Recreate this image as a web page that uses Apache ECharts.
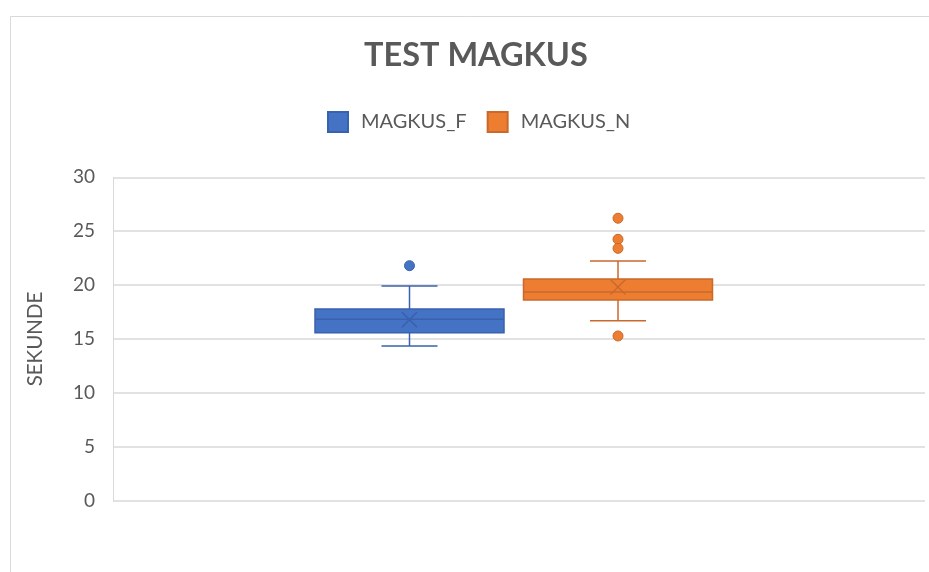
<!DOCTYPE html>
<html>
<head>
<meta charset="utf-8">
<script src="https://cdn.jsdelivr.net/npm/echarts@6/dist/echarts.min.js"></script>
<style>
  html, body { margin: 0; padding: 0; background: #fff; }
  #main { width: 929px; height: 572px; }
</style>
</head>
<body>
<div id="main"></div>
<script>
// data
var categories = ['MAGKUS_F', 'MAGKUS_N'];
// [min, q1, median, q3, max, mean]
var boxF = [14.35, 15.58, 16.83, 17.78, 19.92, 16.8];
var boxN = [16.70, 18.62, 19.36, 20.57, 22.24, 19.82];
var outliersF = [21.8];
var outliersN = [26.2, 24.25, 23.41, 15.28];
var yTicks = [0, 30, 5]; // min, max, interval

var FONT = 'Lato, "Open Sans", sans-serif';
var GRAY = '#595959';
var LINE = '#d9d9d9';

var colF = { fill: '#4472c4', stroke: '#3862ad' };
var colN = { fill: '#ed7d31', stroke: '#c9692b' };

// box drawn on the hidden grid's scales
function boxRenderer(col) {
    return function (params, api) {
        var x = api.value(0);
        var pMin = api.coord([x, api.value(1)]);
        var pQ1 = api.coord([x, api.value(2)]);
        var pMed = api.coord([x, api.value(3)]);
        var pQ3 = api.coord([x, api.value(4)]);
        var pMax = api.coord([x, api.value(5)]);
        var pMean = api.coord([x, api.value(6)]);
        var cx = pMed[0];
        var half = 94.5, cap = 28, xs = 7.5;
        var ls = { stroke: col.stroke, lineWidth: 1.5 };
        return {
            type: 'group',
            children: [
                { type: 'line', shape: { x1: cx, y1: pQ3[1], x2: cx, y2: pMax[1] }, style: ls },
                { type: 'line', shape: { x1: cx, y1: pQ1[1], x2: cx, y2: pMin[1] }, style: ls },
                { type: 'line', shape: { x1: cx - cap, y1: pMax[1], x2: cx + cap, y2: pMax[1] }, style: ls },
                { type: 'line', shape: { x1: cx - cap, y1: pMin[1], x2: cx + cap, y2: pMin[1] }, style: ls },
                { type: 'rect', shape: { x: cx - half, y: pQ3[1], width: half * 2, height: pQ1[1] - pQ3[1] },
                  style: { fill: col.fill, stroke: col.stroke, lineWidth: 1.5 } },
                { type: 'line', shape: { x1: cx - half, y1: pMed[1], x2: cx + half, y2: pMed[1] }, style: ls },
                { type: 'line', shape: { x1: cx - xs, y1: pMean[1] - xs, x2: cx + xs, y2: pMean[1] + xs }, style: ls },
                { type: 'line', shape: { x1: cx + xs, y1: pMean[1] - xs, x2: cx - xs, y2: pMean[1] + xs }, style: ls }
            ]
        };
    };
}

function outlierData(idx, list) {
    var out = [];
    for (var i = 0; i < list.length; i++) {
        out.push([idx, list[i]]);
    }
    return out;
}

var chart = echarts.init(document.getElementById('main'));
chart.setOption({
    animation: false,
    backgroundColor: '#fff',
    graphic: [{
        type: 'rect',
        shape: { x: 10.5, y: 16.5, width: 1000, height: 1000 },
        style: { fill: 'none', stroke: LINE, lineWidth: 1 },
        z: -1
    }],
    title: {
        text: 'TEST MAGKUS',
        left: 359,
        top: 34,
        textStyle: { fontFamily: FONT, fontSize: 32.5, fontWeight: 'bold', color: GRAY }
    },
    legend: {
        data: categories,
        left: 327,
        top: 111,
        padding: 0,
        icon: 'rect',
        itemWidth: 20,
        itemHeight: 20,
        itemGap: 20,
        textStyle: { fontFamily: FONT, fontSize: 20, color: GRAY, padding: [0, 0, 0, 8] }
    },
    grid: [
        { left: 113, right: 4, top: 177.3, bottom: 71.3 },
        { left: 305.25, width: 417, top: 177.3, bottom: 71.3 }
    ],
    xAxis: [
        { type: 'category', gridIndex: 0, data: [''], show: false },
        { type: 'category', gridIndex: 1, data: categories, show: false }
    ],
    yAxis: [
        {
            type: 'value', gridIndex: 0,
            min: yTicks[0], max: yTicks[1], interval: yTicks[2],
            name: 'SEKUNDE',
            nameLocation: 'middle',
            nameRotate: 90,
            nameGap: 67,
            nameTextStyle: { fontFamily: FONT, fontSize: 20.5, color: GRAY },
            axisLine: { show: true, lineStyle: { color: LINE } },
            axisTick: { show: false },
            axisLabel: { fontFamily: FONT, fontSize: 19, color: GRAY, margin: 18 },
            splitLine: { lineStyle: { color: LINE, width: 1.5 } }
        },
        {
            type: 'value', gridIndex: 1,
            min: yTicks[0], max: yTicks[1], interval: yTicks[2],
            show: false, splitLine: { show: false }
        }
    ],
    series: [
        {
            name: 'MAGKUS_F', type: 'custom', xAxisIndex: 1, yAxisIndex: 1,
            itemStyle: { color: colF.fill, borderColor: colF.stroke, borderWidth: 1 },
            renderItem: boxRenderer(colF),
            data: [[0].concat(boxF)]
        },
        {
            name: 'MAGKUS_N', type: 'custom', xAxisIndex: 1, yAxisIndex: 1,
            itemStyle: { color: colN.fill, borderColor: colN.stroke, borderWidth: 1 },
            renderItem: boxRenderer(colN),
            data: [[1].concat(boxN)]
        },
        {
            name: 'MAGKUS_F', type: 'scatter', xAxisIndex: 1, yAxisIndex: 1,
            symbolSize: 10,
            itemStyle: { color: colF.fill, borderColor: colF.stroke, borderWidth: 1, opacity: 1 },
            data: outlierData(0, outliersF)
        },
        {
            name: 'MAGKUS_N', type: 'scatter', xAxisIndex: 1, yAxisIndex: 1,
            symbolSize: 10,
            itemStyle: { color: colN.fill, borderColor: colN.stroke, borderWidth: 1, opacity: 1 },
            data: outlierData(1, outliersN)
        }
    ]
});
</script>
</body>
</html>
